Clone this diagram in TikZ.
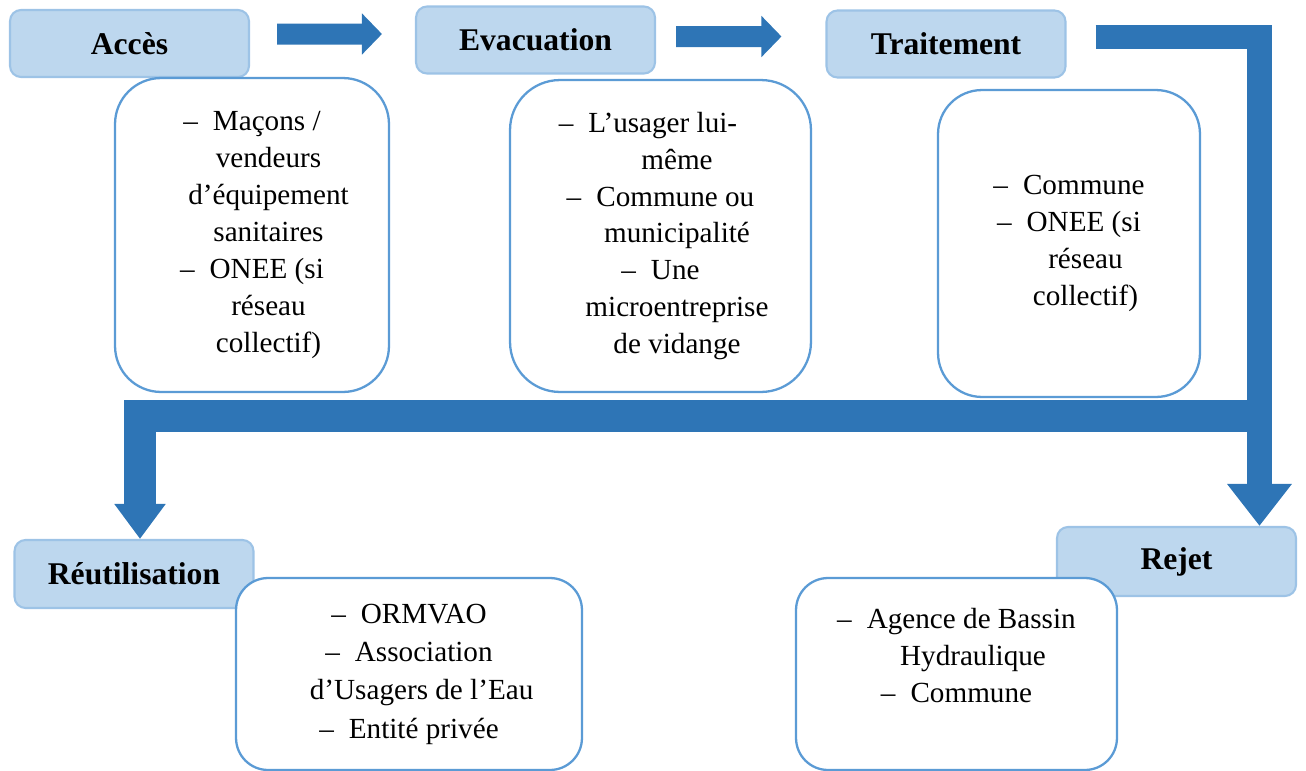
\documentclass[tikz,border=0pt]{standalone}
\usepackage{fontspec}
\setmainfont{Liberation Serif}
\usepackage{xcolor}
\usepackage{tikz}
\usetikzlibrary{arrows.meta, positioning}
\definecolor{stagefill}{HTML}{BDD7EE}
\definecolor{stageline}{HTML}{9DC3E6}
\definecolor{actorline}{HTML}{5B9BD5}
\definecolor{flowblue}{HTML}{2E75B6}
\tikzstyle{stage} = [rectangle, draw=stageline, line width=1.2pt, fill=stagefill, rounded corners=0.22cm, minimum width=4.78cm, minimum height=1.34cm, font=\fontsize{18}{21}\selectfont\bfseries]
\tikzstyle{actors} = [rectangle, draw=actorline, line width=1.3pt, fill=white, align=center, font=\fontsize{16.6}{21}\selectfont]
\tikzstyle{arrow} = [draw=flowblue, line width=0.42cm, -{Triangle[width=0.8cm, length=0.4cm]}]
\tikzstyle{bigarrow} = [draw=flowblue, line join=miter, line width=0.49cm, -{Triangle[width=1.24cm, length=0.84cm]}]
\tikzstyle{backarrow} = [draw=flowblue, line join=miter, line width=0.64cm, -{Triangle[width=0.98cm, length=0.7cm]}]
\newcommand{\tiret}{–\hspace{0.3cm}}
\newcommand{\suite}[1][0.66cm]{\hspace*{#1}}

\begin{document}
\begin{tikzpicture}[x=0.02cm, y=-0.02cm]
\useasboundingbox (0,0) rectangle (1306,771);

% stages of the chain
\node[stage] (acces) at (129.5,43.5) {Accès};
\node[stage] (evacuation) at (535.5,40) {Evacuation};
\node[stage] (traitement) at (946,44) {Traitement};
\node[stage, minimum height=1.36cm] (reutilisation) at (134,574) {Réutilisation};
\node[stage, minimum height=1.38cm] (rejet) at (1176.5,561.5) {Rejet};

% actors for each stage
\node[actors, minimum width=5.48cm, minimum height=6.28cm, rounded corners=0.92cm] (acteurs_acces) at (252,235)
  {\tiret Maçons /\\ \suite vendeurs\\ \suite d’équipement\\ \suite sanitaires\\ \tiret ONEE (si\\ \suite réseau\\ \suite collectif)};
\node[actors, minimum width=6.02cm, minimum height=6.24cm, rounded corners=1cm] (acteurs_evacuation) at (660.5,236)
  {\tiret L’usager lui-\hspace*{0.5cm}\\ \suite même\\ \tiret Commune ou\\ \suite municipalité\\ \tiret Une\\ \suite microentreprise\\ \suite de vidange};
\node[actors, minimum width=5.24cm, minimum height=6.14cm, rounded corners=0.88cm] (acteurs_traitement) at (1069,243.5)
  {\tiret Commune\\ \tiret ONEE (si\\ \suite réseau\\ \suite collectif)};
\node[actors, minimum width=6.92cm, minimum height=3.84cm, rounded corners=0.64cm, font=\fontsize{16.6}{21.8}\selectfont] (acteurs_reutilisation) at (409,674)
  {\tiret ORMVAO\\ \tiret Association\\ \suite[0.36cm] d’Usagers de l’Eau\\ \tiret Entité privée};
\node[actors, minimum width=6.42cm, minimum height=3.84cm, rounded corners=0.64cm] (acteurs_rejet) at (956.5,674)
  {\tiret Agence de Bassin\\ \suite Hydraulique\\ \tiret Commune\\ ~};

% flow arrows, first row
\draw[arrow, shorten <=0.54cm, shorten >=0.66cm] ([yshift=0.19cm]acces.east) -- ([yshift=0.12cm]evacuation.west);
\draw[arrow, shorten <=0.4cm, shorten >=0.88cm] ([yshift=0.07cm]evacuation.east) -- ([yshift=0.15cm]traitement.west);

% down to rejet, then back to reutilisation
\draw[bigarrow] ([xshift=0.58cm, yshift=0.14cm]traitement.east) -| ([xshift=1.66cm]rejet.north);
\coordinate (split) at (1259.5,416);
\draw[backarrow] (split) -| ([xshift=0.12cm]reutilisation.north);

\end{tikzpicture}
\end{document}
